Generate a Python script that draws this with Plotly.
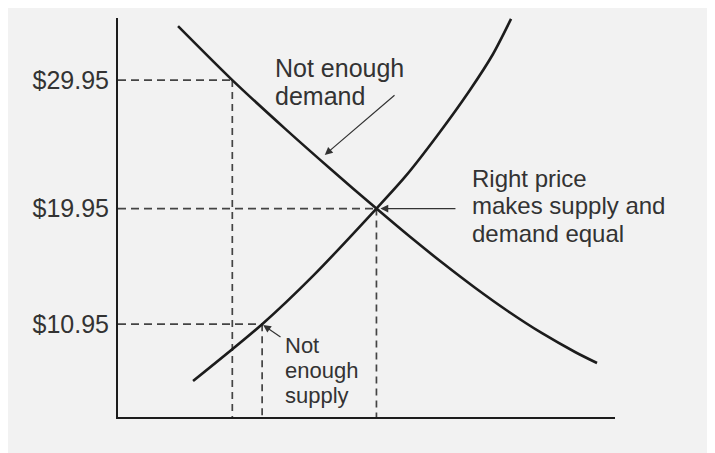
import plotly.graph_objects as go

# Price levels marked on the vertical axis and the quantity at each
prices = [29.95, 19.95, 10.95]
price_labels = ["$29.95", "$19.95", "$10.95"]
quantities = [11.5, 26, 14.5]

# Demand curve
demand_q = [6.04, 11.5, 16.8, 21.53, 26, 29.38, 32.6, 35.92, 39.24, 42.66, 45.98, 48.19]
demand_p = [34.15, 29.95, 26.17, 22.93, 19.95, 17.75, 15.75, 13.79, 11.96, 10.25, 8.79, 7.93]

# Supply curve
supply_q = [7.55, 14.5, 19.62, 26, 28.87, 32.09, 35.41, 37.73, 39.54]
supply_p = [6.53, 10.95, 14.71, 19.95, 22.41, 25.6, 29.18, 31.98, 34.71]

x_range = [0, 50]
y_range = [3.73, 34.78]

FONT = "Liberation Sans, Arial, sans-serif"
TXT = "#333333"
INK = "#1c1c1c"


def main():
    fig = go.Figure()

    # dashed guide lines from the axes to the curves
    for p, q in zip(prices, quantities):
        fig.add_trace(go.Scatter(x=[x_range[0], q], y=[p, p], mode="lines",
                                 line=dict(color="#444444", width=1.7, dash="8px,5px"),
                                 hoverinfo="skip"))
        fig.add_trace(go.Scatter(x=[q, q], y=[p, y_range[0]], mode="lines",
                                 line=dict(color="#444444", width=1.7, dash="7px,5px"),
                                 hoverinfo="skip"))

    fig.add_trace(go.Scatter(x=demand_q, y=demand_p, mode="lines",
                             line=dict(color=INK, width=2.6, shape="spline", smoothing=0.8),
                             name="Demand"))
    fig.add_trace(go.Scatter(x=supply_q, y=supply_p, mode="lines",
                             line=dict(color=INK, width=2.6, shape="spline", smoothing=0.8),
                             name="Supply"))

    # arrows (tip, tail)
    arrows = [
        ((20.8, 24.12), (27.97, 28.87)),
        ((26.4, prices[1]), (34.1, prices[1])),
        ((14.6, 10.89), (16.5, 9.88)),
    ]
    for (hx, hy), (tx, ty) in arrows:
        fig.add_annotation(x=hx, y=hy, ax=tx, ay=ty, xref="x", yref="y",
                           axref="x", ayref="y", text="", showarrow=True,
                           arrowhead=2, arrowsize=1.3, arrowwidth=1.2,
                           arrowcolor="#333333", standoff=0, startstandoff=0)

    # text labels, one line at a time: (text, x, y, size)
    labels = [
        ("Not enough", 15.6, 30.89, 25),
        ("demand", 15.6, 28.71, 25),
        ("Right price", 35.41, 22.3, 24),
        ("makes supply and", 35.41, 20.17, 24),
        ("demand equal", 35.41, 18.03, 24),
        ("Not", 16.6, 9.3, 22),
        ("enough", 16.6, 7.37, 22),
        ("supply", 16.6, 5.44, 22),
    ]
    for txt, x, y, size in labels:
        fig.add_annotation(x=x, y=y, xref="x", yref="y", text=txt, showarrow=False,
                           xanchor="left", yanchor="middle",
                           font=dict(family=FONT, size=size, color=TXT))

    fig.update_layout(
        width=715, height=453,
        margin=dict(l=110, r=108, t=10, b=44),
        paper_bgcolor="#f2f2f2",
        plot_bgcolor="rgba(0,0,0,0)",
        showlegend=False,
        font=dict(family=FONT, color=TXT),
    )
    fig.update_xaxes(range=x_range, showline=True, linecolor=INK, linewidth=2,
                     showgrid=False, zeroline=False, showticklabels=False, ticks="")
    fig.update_yaxes(range=y_range, showline=True, linecolor=INK, linewidth=2,
                     showgrid=False, zeroline=False, ticks="",
                     tickvals=prices, ticktext=price_labels, ticklabelstandoff=2,
                     tickfont=dict(family=FONT, size=25, color=TXT))

    fig.write_html("out.html")


if __name__ == "__main__":
    main()
